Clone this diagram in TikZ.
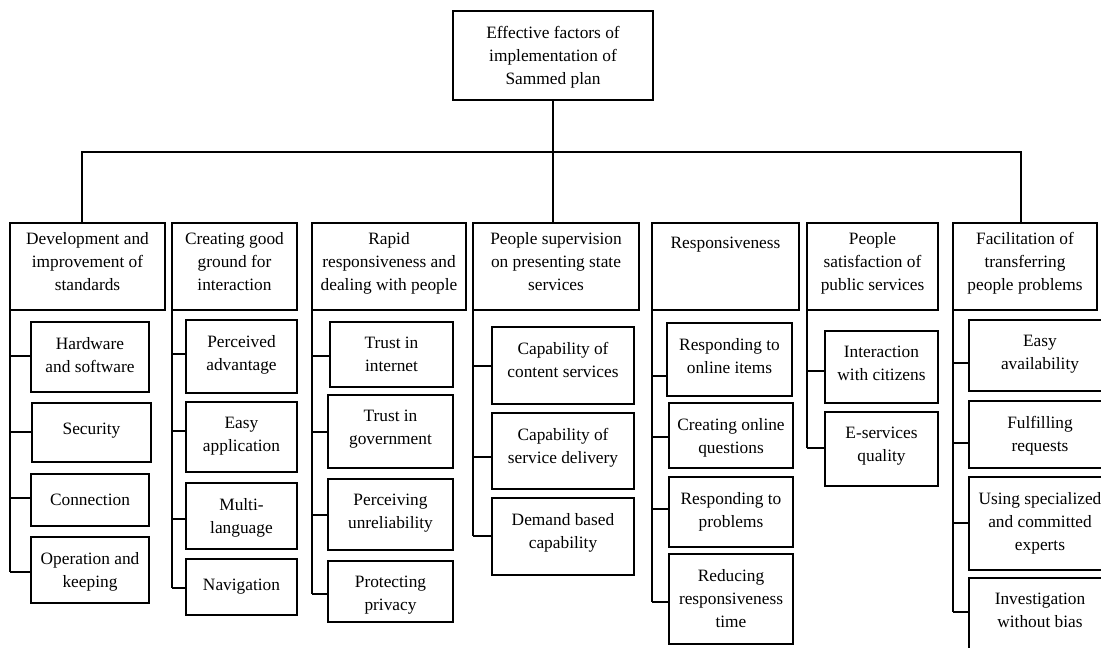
\documentclass[tikz,border=0pt]{standalone}
\usepackage{fontspec}
\setmainfont{Liberation Serif}
\usetikzlibrary{calc}

% coordinates are given in pixel units, y running downwards
\tikzset{
  box/.style={draw, line width=1.2pt, rectangle, inner sep=0pt, outer sep=0pt},
  lbl/.style={font=\fontsize{13}{17.25}\selectfont, align=center, inner sep=0pt,
              execute at begin node=\strut},
  conn/.style={line width=1.2pt}
}

% \mkbox{name}{x1}{y1}{x2}{y2}{text offset}{text}
\newcommand{\mkbox}[7]{%
  \pgfmathsetmacro\bxw{(#4-#2)*0.75}%
  \pgfmathsetmacro\bxh{(#5-#3)*0.75}%
  \node[box, minimum width=\bxw pt, minimum height=\bxh pt, anchor=north west] (#1) at (#2,#3) {};
  \node[lbl, anchor=north] (#1-t) at ([yshift=-#6*0.75pt]#1.north) {#7};
}
% \stub{category}{item}{y of the branch}
\newcommand{\stub}[3]{%
  \coordinate (#2-y) at (0,#3);
  \draw[conn] (#1.south west |- #2-y) -- (#2.west |- #2-y);
}

\begin{document}
\begin{tikzpicture}[x=0.75pt, y=-0.75pt]
\useasboundingbox (0,0) rectangle (1101,648);
\clip (0,0) rectangle (1101,648);

% root
\mkbox{root}{453}{11}{653}{100}{15}{Effective factors of\\implementation of\\Sammed plan}

% categories
\mkbox{c1}{10}{223}{165}{310}{9}{Development and\\improvement of\\standards}
\mkbox{c2}{172}{223}{297}{310}{9}{Creating good\\ground for\\interaction}
\mkbox{c3}{312}{223}{466}{310}{9}{Rapid\\responsiveness and\\dealing with people}
\mkbox{c4}{473}{223}{639}{310}{9}{People supervision\\on presenting state\\services}
\mkbox{c5}{652}{223}{799}{310}{9}{Responsiveness}
\mkbox{c6}{807}{223}{938}{310}{9}{People\\satisfaction of\\public services}
\mkbox{c7}{953}{223}{1097}{310}{9}{Facilitation of\\transferring\\people problems}

% tree trunk and bus
\draw[conn] (root.south) -- (root.south |- c4.north);
\draw[conn] ([xshift=-4]c1.north) -- ++(0,-71) -| ([xshift=-3]c7.north);

% column 1
\mkbox{s11}{31}{322}{149}{392}{15}{Hardware\\and software}
\mkbox{s12}{32}{403}{151}{462}{15}{Security}
\mkbox{s13}{31}{474}{149}{526}{15}{Connection}
\mkbox{s14}{31}{537}{149}{603}{15}{Operation and\\keeping}
\stub{c1}{s11}{356}
\stub{c1}{s12}{432}
\stub{c1}{s13}{498}
\stub{c1}{s14}{572}
\draw[conn] (c1.south west) -- (c1.south west |- s14-y);

% column 2
\mkbox{s21}{186}{320}{297}{393}{15}{Perceived\\advantage}
\mkbox{s22}{186}{402}{297}{472}{15}{Easy\\application}
\mkbox{s23}{186}{483}{297}{549}{15}{Multi-\\language}
\mkbox{s24}{186}{559}{297}{615}{15}{Navigation}
\stub{c2}{s21}{354}
\stub{c2}{s22}{431}
\stub{c2}{s23}{519}
\stub{c2}{s24}{588}
\draw[conn] (c2.south west) -- (c2.south west |- s24-y);

% column 3
\mkbox{s31}{330}{322}{453}{387}{15}{Trust in\\internet}
\mkbox{s32}{328}{395}{453}{468}{15}{Trust in\\government}
\mkbox{s33}{328}{479}{453}{550}{15}{Perceiving\\unreliability}
\mkbox{s34}{328}{561}{453}{622}{15}{Protecting\\privacy}
\stub{c3}{s31}{356}
\stub{c3}{s32}{432}
\stub{c3}{s33}{515}
\stub{c3}{s34}{594}
\draw[conn] (c3.south west) -- (c3.south west |- s34-y);

% column 4
\mkbox{s41}{492}{327}{634}{404}{15}{Capability of\\content services}
\mkbox{s42}{492}{413}{634}{489}{15}{Capability of\\service delivery}
\mkbox{s43}{492}{498}{634}{575}{15}{Demand based\\capability}
\stub{c4}{s41}{366}
\stub{c4}{s42}{457}
\stub{c4}{s43}{536}
\draw[conn] (c4.south west) -- (c4.south west |- s43-y);

% column 5
\mkbox{s51}{667}{323}{792}{396}{15}{Responding to\\online items}
\mkbox{s52}{669}{403}{793}{468}{15}{Creating online\\questions}
\mkbox{s53}{669}{477}{793}{547}{15}{Responding to\\problems}
\mkbox{s54}{669}{554}{793}{644}{15}{Reducing\\responsiveness\\time}
\stub{c5}{s51}{376}
\stub{c5}{s52}{437}
\stub{c5}{s53}{509}
\stub{c5}{s54}{602}
\draw[conn] (c5.south west) -- (c5.south west |- s54-y);

% column 6
\mkbox{s61}{825}{331}{938}{403}{15}{Interaction\\with citizens}
\mkbox{s62}{825}{412}{938}{486}{15}{E-services\\quality}
\stub{c6}{s61}{371}
\stub{c6}{s62}{448}
\draw[conn] (c6.south west) -- (c6.south west |- s62-y);

% column 7
\mkbox{s71}{969}{320}{1111}{391}{15}{Easy\\availability}
\mkbox{s72}{969}{401}{1111}{468}{15}{Fulfilling\\requests}
\mkbox{s73}{969}{477}{1111}{570}{15}{Using specialized\\and committed\\experts}
\mkbox{s74}{969}{578}{1111}{665}{15}{Investigation\\without bias}
\stub{c7}{s71}{363}
\stub{c7}{s72}{443}
\stub{c7}{s73}{523}
\stub{c7}{s74}{612}
\draw[conn] (c7.south west) -- (c7.south west |- s74-y);
\end{tikzpicture}
\end{document}
